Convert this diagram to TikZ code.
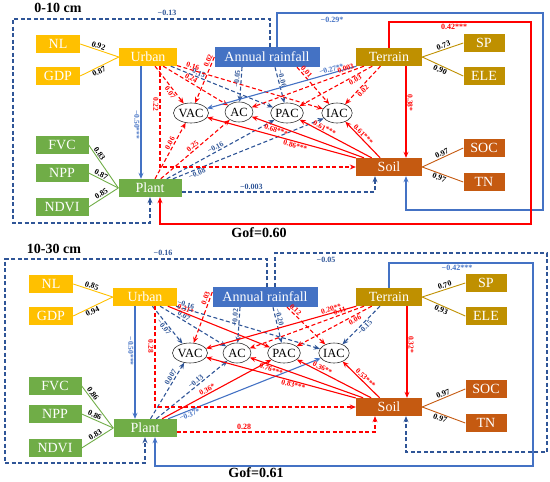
\documentclass[tikz,border=0pt]{standalone}
\usepackage{fontspec}
\setmainfont{Liberation Serif}
\usepackage{xcolor}
\usepackage{tikz}
\usetikzlibrary{arrows.meta,shapes.geometric}
\definecolor{urbcol}{HTML}{FFC000}
\definecolor{plcol}{HTML}{70AD47}
\definecolor{tercol}{HTML}{BF9000}
\definecolor{soilcol}{HTML}{C55A11}
\definecolor{raincol}{HTML}{4472C4}
\definecolor{bluel}{HTML}{4472C4}
\definecolor{blued}{HTML}{2F5597}
\tikzset{
lv/.style={
minimum height=18pt,
inner sep=1pt,
text=white,
font=\fontsize{14}{15}\selectfont
},
urb/.style={lv,fill=urbcol,minimum width=58pt},
urbind/.style={lv,fill=urbcol,minimum width=44pt},
rain/.style={lv,fill=raincol,minimum width=105pt,minimum height=20pt},
ter/.style={lv,fill=tercol,minimum width=66pt},
terind/.style={lv,fill=tercol,minimum width=41pt},
pl/.style={lv,fill=plcol,minimum width=63pt},
plind/.style={lv,fill=plcol,minimum width=53pt},
soil/.style={lv,fill=soilcol,minimum width=66pt},
soilind/.style={lv,fill=soilcol,minimum width=41pt},
ell/.style={
ellipse,
draw=black!80,
line width=0.6pt,
fill=white,
inner sep=0pt,
minimum width=28pt,
minimum height=20pt,
font=\fontsize{12.5}{13}\selectfont
},
title/.style={font=\bfseries\fontsize{14}{15}\selectfont},
gof/.style={font=\bfseries\fontsize{14}{15}\selectfont},
rs/.style={
red,
line width=1.1pt,
-{Stealth[length=6pt,width=5pt]}
},
rd/.style={rs,dash pattern=on 4pt off 2.5pt},
bs/.style={
bluel,
line width=1.1pt,
-{Stealth[length=6pt,width=5pt]}
},
bd/.style={bs,blued,dash pattern=on 4pt off 2.5pt},
lab/.style={font=\fontsize{7.5}{8}\selectfont\bfseries,inner sep=1pt,sloped},
flab/.style={font=\fontsize{8}{9}\selectfont\bfseries,inner sep=1.5pt},
ldlab/.style={font=\fontsize{8}{9}\selectfont\bfseries,text=black,inner sep=1pt,sloped},
urbline/.style={draw=urbcol,line width=0.9pt},
plline/.style={draw=plcol,line width=0.9pt},
terline/.style={draw=tercol,line width=0.9pt},
soilline/.style={draw=soilcol,line width=0.9pt}
}

\begin{document}
\begin{tikzpicture}[x=1pt,y=-1pt]
\useasboundingbox (0,0) rectangle (550,482);

% ---- 0-10 cm ----
\node[title](t1) at (58,8){0-10 cm};

\node[urbind](nl1) at (58,44){NL};
\node[urbind](gdp1) at (58,76){GDP};
\node[urb](u1) at (148,57){Urban};
\node[rain](ar1) at (267,57){Annual rainfall};
\node[ter](ter1) at (389,57){Terrain};
\node[terind](sp1) at (484,43){SP};
\node[terind](ele1) at (484,76){ELE};

\node[ell](vac1) at (191,113){VAC};
\node[ell](ac1) at (239,112){AC};
\node[ell](pac1) at (287,113){PAC};
\node[ell](iac1) at (337,113){IAC};

\node[plind](fvc1) at (62,145){FVC};
\node[plind](npp1) at (62,173){NPP};
\node[plind](ndvi1) at (62,207){NDVI};
\node[pl](pl1) at (150,188){Plant};
\node[soil](so1) at (389,167){Soil};
\node[soilind](soc1) at (484,148){SOC};
\node[soilind](tn1) at (484,182){TN};

\node[gof](g1) at (259,233){Gof=0.60};

\coordinate (ar1a) at ([xshift=-25pt]ar1.south);
\coordinate (ar1p) at ([xshift=8pt]ar1.south);
\coordinate (ar1i) at ([xshift=30pt]ar1.south);
\coordinate (ar1f) at ([xshift=3pt]ar1.north);
\coordinate (ar1s) at ([xshift=10pt]ar1.north);
\coordinate (u1r) at ([xshift=12pt]u1.south);
\coordinate (u1l) at ([xshift=-7pt]u1.south);
\coordinate (pl1l) at ([xshift=-9pt]pl1.north);
\coordinate (pl1r) at ([xshift=10pt]pl1.south);
\coordinate (pl1e) at ([yshift=-4pt]pl1.east);
\coordinate (ter1b) at ([xshift=17pt]ter1.south);
\coordinate (so1t) at ([xshift=17pt]so1.north);
\coordinate (so1r) at ([xshift=17pt]so1.south);
\coordinate (so1l) at ([xshift=-14pt]so1.south);

\foreach \a/\l/\p/\o in {nl1/0.92/0.44/above,gdp1/0.87/0.44/below}
\draw[urbline](\a.east)--node[ldlab,pos=\p,\o]{\l}(u1.west);
\foreach \a/\l/\p/\o in {fvc1/0.83/0.25/above,npp1/0.87/0.36/above,ndvi1/0.85/0.5/above}
\draw[plline](\a.east)--node[ldlab,pos=\p,\o]{\l}(pl1.west);
\foreach \a/\l/\p/\o in {sp1/0.73/0.55/above,ele1/0.90/0.48/below}
\draw[terline](ter1.east)--node[ldlab,pos=\p,\o]{\l}(\a.west);
\foreach \a/\l/\p/\o in {soc1/0.97/0.52/above,tn1/0.97/0.45/below}
\draw[soilline](so1.east)--node[ldlab,pos=\p,\o]{\l}(\a.west);

\foreach \s/\a/\b/\l/\p/\o in {
rd/u1/vac1/0.07/0.64/below,
rd/u1/ac1/0.24/0.4/above,
bd/u1/pac1/0.15/0.26/above,
rd/u1/iac1/0.16/0.1/above,
rd/ar1.west/vac1/0.02/0.12/above,
bd/ar1a/ac1/−0.05/0.35/above,
bd/ar1p/pac1/−0.06/0.35/above,
rd/ar1i/iac1/0.01/0.2/above,
bs/ter1/vac1/−0.27**/0.16/above,
rd/ter1/ac1/0.003/0.15/above,
rd/ter1/pac1/0.03/0.26/below,
rd/ter1/iac1/0.02/0.58/below,
rd/pl1/vac1/0.06/0.6/above,
rd/pl1/ac1/0.25/0.5/above,
bd/pl1/pac1/−0.16/0.47/above,
bd/pl1/iac1/−0.08/0.15/below,
rs/so1/vac1/0.86***/0.4/below,
rs/so1/ac1/0.68***/0.77/below,
rs/so1/pac1/0.61***/0.68/above,
rs/so1/iac1/0.61***/0.57/above}
\draw[\s](\a)--node[lab,pos=\p,\o]{\l}(\b);

\draw[bs](u1l)--node[lab,pos=0.52,below]{−0.50***}(pl1l);
\draw[rs](ter1b)--node[lab,pos=0.4,above]{0.38*}(so1t);
\draw[rd](u1r)|-node[lab,pos=0.19,below]{0.22}(so1.west);
\draw[bd](pl1e)-|node[flab,pos=0.18,above]{−0.003}(so1l);

\draw[bd](ar1f)|-(13,19)|-(150,223)--(pl1.south);
\draw[bs](ar1s)|-(543,13)|-(406,210)--(so1r);
\draw[rs](ter1.north)|-(531,22)|-(160,224)--(pl1r);
\node[flab,text=blued](f1) at (167,13){−0.13};
\node[flab,text=bluel](f2) at (332,20){−0.29*};
\node[flab,text=red](f3) at (454,27){0.42***};

% ---- 10-30 cm ----
\node[title](t2) at (54,249){10-30 cm};

\node[urbind](nl2) at (51,284){NL};
\node[urbind](gdp2) at (51,316){GDP};
\node[urb,minimum width=64pt](u2) at (145,297){Urban};
\node[rain](ar2) at (265,297){Annual rainfall};
\node[ter](ter2) at (389,297){Terrain};
\node[terind](sp2) at (486,283){SP};
\node[terind](ele2) at (486,316){ELE};

\node[ell](vac2) at (190,353){VAC};
\node[ell](ac2) at (237,353){AC};
\node[ell](pac2) at (284,353){PAC};
\node[ell](iac2) at (334,353){IAC};

\node[plind](fvc2) at (55,386){FVC};
\node[plind](npp2) at (55,414){NPP};
\node[plind](ndvi2) at (55,448){NDVI};
\node[pl](pl2) at (145,428){Plant};
\node[soil](so2) at (389,407){Soil};
\node[soilind](soc2) at (486,389){SOC};
\node[soilind](tn2) at (486,423){TN};

\node[gof](g2) at (256,473){Gof=0.61};

\coordinate (ar2a) at ([xshift=-25pt]ar2.south);
\coordinate (ar2p) at ([xshift=8pt]ar2.south);
\coordinate (ar2i) at ([xshift=22pt]ar2.south);
\coordinate (ar2v) at ([yshift=5pt]ar2.west);
\coordinate (ar2f) at ([xshift=2pt]ar2.north);
\coordinate (ar2s) at ([xshift=10pt]ar2.north);
\coordinate (u2r) at ([xshift=10pt]u2.south);
\coordinate (u2l) at ([xshift=-10pt]u2.south);
\coordinate (pl2l) at ([xshift=-10pt]pl2.north);
\coordinate (pl2r) at ([xshift=10pt]pl2.south);
\coordinate (pl2e) at ([yshift=-4pt]pl2.east);
\coordinate (ter2b) at ([xshift=18pt]ter2.south);
\coordinate (so2t) at ([xshift=18pt]so2.north);
\coordinate (so2r) at ([xshift=17pt]so2.south);
\coordinate (so2l) at ([xshift=-14pt]so2.south);

\foreach \a/\l/\p/\o in {nl2/0.85/0.44/above,gdp2/0.94/0.44/below}
\draw[urbline](\a.east)--node[ldlab,pos=\p,\o]{\l}(u2.west);
\foreach \a/\l/\p/\o in {fvc2/0.86/0.25/above,npp2/0.86/0.36/above,ndvi2/0.83/0.5/above}
\draw[plline](\a.east)--node[ldlab,pos=\p,\o]{\l}(pl2.west);
\foreach \a/\l/\p/\o in {sp2/0.70/0.55/above,ele2/0.93/0.48/below}
\draw[terline](ter2.east)--node[ldlab,pos=\p,\o]{\l}(\a.west);
\foreach \a/\l/\p/\o in {soc2/0.97/0.52/above,tn2/0.97/0.45/below}
\draw[soilline](so2.east)--node[ldlab,pos=\p,\o]{\l}(\a.west);

\foreach \s/\a/\b/\l/\p/\o in {
bd/u2/vac2/−0.07/0.49/below,
bd/u2/ac2/0.07/0.33/above,
rs/u2/pac2/0.31*/0.16/above,
bd/u2/iac2/−0.16/0.06/above,
rd/ar2v/vac2/0.03/0.15/above,
bd/ar2a/ac2/−0.02/0.3/above,
bd/ar2p/pac2/−0.20/0.3/above,
rd/ar2i/iac2/0.12/0.15/above,
rs/ter2/vac2/0.20**/0.16/above,
rd/ter2/ac2/0.11/0.2/above,
rd/ter2/pac2/0.06/0.25/below,
bd/ter2/iac2/−0.15/0.48/below,
bd/pl2/vac2/0.007/0.7/above,
bd/pl2/ac2/−0.13/0.59/above,
rs/pl2/pac2/0.36*/0.43/above,
bs/pl2/iac2/−0.37*/0.13/below,
rs/so2/vac2/0.83***/0.41/below,
rs/so2/ac2/0.76***/0.8/below,
rs/so2/pac2/0.36**/0.68/above,
rs/so2/iac2/0.53***/0.46/above}
\draw[\s](\a)--node[lab,pos=\p,\o]{\l}(\b);

\draw[bs](u2l)--node[lab,pos=0.4,below]{−0.50***}(pl2l);
\draw[rs](ter2b)--node[lab,pos=0.42,above]{0.32*}(so2t);
\draw[rd](u2r)|-node[lab,pos=0.2,below]{0.28}(so2.west);
\draw[rd](pl2e)-|node[flab,pos=0.17,above]{0.28}(so2l);

\draw[bd](ar2f)|-(5,259)|-(145,463)--(pl2.south);
\draw[bd](ar2s)|-(547,253)|-(406,452)--(so2r);
\draw[bs](ter2.north)|-(533,263)|-(155,466)--(pl2r);
\node[flab,text=blued](f4) at (163,253){−0.16};
\node[flab,text=blued](f5) at (326,260){−0.05};
\node[flab,text=bluel](f6) at (457,268){−0.42***};

\end{tikzpicture}
\end{document}
